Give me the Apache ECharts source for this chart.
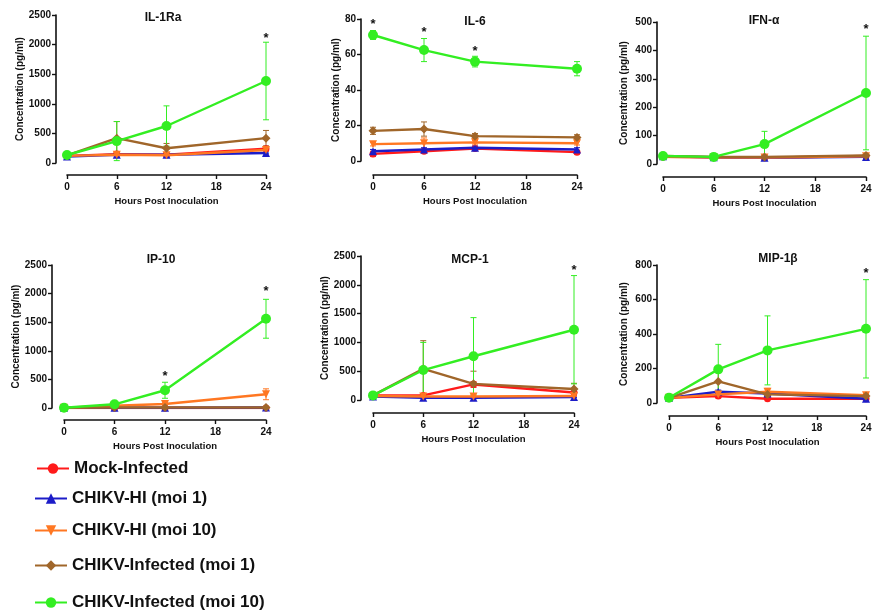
<!DOCTYPE html>
<html>
<head>
<meta charset="utf-8">
<script src="https://cdn.jsdelivr.net/npm/echarts@6/dist/echarts.min.js"></script>
<style>
* { margin: 0; padding: 0; }
body { background: #fff; }
#main { width: 879px; height: 614px; }
</style>
</head>
<body>
<div id="main"></div>
<script>
// time points (hours post inoculation)
var hours = [0, 6, 12, 24];
var groups = ['Mock-Infected', 'CHIKV-HI (moi 1)', 'CHIKV-HI (moi 10)', 'CHIKV-Infected (moi 1)', 'CHIKV-Infected (moi 10)'];

// means per group (rows follow `groups`), error = SD, stars = [hour, y]
var il1raMeans = [[120, 150, 140, 240], [110, 140, 140, 170], [120, 140, 130, 220], [130, 420, 250, 420], [135, 370, 625, 1385]];
var il1raSds = [[15, 20, 20, 30], [10, 15, 15, 15], [10, 20, 20, 20], [20, 280, 80, 130], [20, 330, 340, 655]];
var il1raStars = [[24, 2110]];

var il6Means = [[4, 5.5, 7, 5], [5.5, 6.5, 7.5, 6.5], [9.5, 10, 10.5, 10], [17, 18, 14, 13.3], [71, 62.5, 56, 52]];
var il6Sds = [[1.5, 1, 1, 1], [1, 1, 1, 1], [1, 3, 1, 1], [2, 4, 1.5, 1.5], [2.5, 6.5, 3, 4]];
var il6Stars = [[0, 77], [6, 72.5], [12, 62]];

var ifnMeans = [[25, 24, 22, 28], [27, 24, 22, 25], [25, 24, 23, 27], [28, 25, 25, 30], [28, 25, 70, 250]];
var ifnSds = [[4, 4, 4, 4], [4, 4, 4, 4], [4, 4, 4, 4], [4, 4, 4, 5], [5, 5, 45, 200]];
var ifnStars = [[24, 475]];

var ip10Means = [[0, 0, 0, 0], [5, 5, 5, 10], [5, 40, 70, 240], [5, 10, 8, 10], [5, 65, 310, 1560]];
var ip10Sds = [[2, 2, 2, 2], [2, 2, 2, 5], [5, 10, 20, 95], [2, 3, 3, 3], [5, 20, 140, 340]];
var ip10Stars = [[12, 560], [24, 2040]];

var mcp1Means = [[80, 80, 270, 130], [60, 40, 40, 50], [70, 60, 60, 70], [80, 540, 280, 190], [80, 520, 760, 1220]];
var mcp1Sds = [[10, 20, 50, 40], [5, 5, 5, 5], [10, 10, 10, 10], [20, 490, 220, 100], [20, 480, 670, 940]];
var mcp1Stars = [[24, 2250]];

var mip1bMeans = [[30, 40, 25, 25], [30, 65, 55, 25], [30, 50, 65, 45], [30, 125, 50, 40], [30, 195, 305, 430]];
var mip1bSds = [[5, 10, 5, 5], [5, 10, 10, 5], [5, 10, 20, 10], [5, 60, 10, 10], [10, 145, 200, 285]];
var mip1bStars = [[24, 750]];

var colors = ['#ff1a1a', '#1c1cc8', '#ff7722', '#a0662a', '#33ee22'];
var symbols = ['circle', 'triangle', 'triangle', 'diamond', 'circle'];
var rotations = [0, 0, 180, 0, 0];
var sizes = [7, 8, 8, 9, 10];

var panels = [
  { title: 'IL-1Ra', max: 2500, step: 500, means: il1raMeans, sds: il1raSds, stars: il1raStars,
    grid: { left: 67, top: 15, width: 199, height: 148 }, xOff: 12, yOff: 11, nameGap: 26, titleX: 158, titleY: 7 },
  { title: 'IL-6', max: 80, step: 20, means: il6Means, sds: il6Sds, stars: il6Stars,
    grid: { left: 373, top: 19, width: 204, height: 142 }, xOff: 14, yOff: 12, nameGap: 20, titleX: 470, titleY: 11 },
  { title: 'IFN-α', max: 500, step: 100, means: ifnMeans, sds: ifnSds, stars: ifnStars,
    grid: { left: 663, top: 22, width: 203, height: 142 }, xOff: 13, yOff: 6, nameGap: 28, titleX: 759, titleY: 10 },
  { title: 'IP-10', max: 2500, step: 500, means: ip10Means, sds: ip10Sds, stars: ip10Stars,
    grid: { left: 64, top: 265, width: 202, height: 143 }, xOff: 12, yOff: 12, nameGap: 27, titleX: 156, titleY: 249 },
  { title: 'MCP-1', max: 2500, step: 500, means: mcp1Means, sds: mcp1Sds, stars: mcp1Stars,
    grid: { left: 373, top: 256, width: 201, height: 144 }, xOff: 13, yOff: 12, nameGap: 26, titleX: 465, titleY: 249 },
  { title: 'MIP-1β', max: 800, step: 200, means: mip1bMeans, sds: mip1bSds, stars: mip1bStars,
    grid: { left: 669, top: 265, width: 197, height: 138 }, xOff: 13, yOff: 12, nameGap: 28, titleX: 773, titleY: 248 }
];

var font = 'Liberation Sans, Arial, sans-serif';
var axisLine = { show: true, onZero: false, lineStyle: { color: '#111', width: 1.6 } };
var axisTick = { show: true, length: 4, lineStyle: { color: '#111', width: 1.4 } };

var option = {
  backgroundColor: '#fff',
  animation: false,
  title: [], grid: [], xAxis: [], yAxis: [], series: [], legend: []
};

panels.forEach(function (p, i) {
  option.title.push({
    text: p.title, left: p.titleX, top: p.titleY, textAlign: 'center',
    textStyle: { fontFamily: font, fontWeight: 'bold', fontSize: 12, color: '#111' }
  });
  var g = Object.assign({ containLabel: false, outerBoundsMode: 'none' }, p.grid);
  option.grid.push(g);
  option.xAxis.push({
    type: 'value', gridIndex: i, min: 0, max: 24, interval: 6, offset: p.xOff,
    name: 'Hours Post Inoculation', nameLocation: 'middle', nameGap: 21,
    nameTextStyle: { fontFamily: font, fontWeight: 'bold', fontSize: 9.5, color: '#111' },
    axisLine: axisLine, axisTick: axisTick, splitLine: { show: false },
    axisLabel: { fontFamily: font, fontWeight: 'bold', fontSize: 10, color: '#111', margin: 7 }
  });
  option.yAxis.push({
    type: 'value', gridIndex: i, min: 0, max: p.max, interval: p.step, offset: p.yOff,
    name: 'Concentration (pg/ml)', nameLocation: 'middle', nameGap: p.nameGap,
    nameTextStyle: { fontFamily: font, fontWeight: 'bold', fontSize: 10, color: '#111' },
    axisLine: axisLine, axisTick: axisTick, splitLine: { show: false },
    axisLabel: { fontFamily: font, fontWeight: 'bold', fontSize: 10, color: '#111', margin: 5,
      formatter: function (v) { return String(v); } }
  });

  // error bars first, so the lines sit on top
  var errData = [];
  p.means.forEach(function (row, g) {
    row.forEach(function (m, k) {
      var sd = p.sds[g][k];
      errData.push([hours[k], Math.max(0, m - sd), m + sd, g]);
    });
  });
  option.series.push({
    type: 'custom', xAxisIndex: i, yAxisIndex: i, data: errData, z: 1,
    renderItem: function (params, api) {
      var a = api.coord([api.value(0), api.value(1)]);
      var b = api.coord([api.value(0), api.value(2)]);
      var c = colors[api.value(3)];
      var s = { stroke: c, lineWidth: 1 };
      return { type: 'group', children: [
        { type: 'line', shape: { x1: a[0], y1: a[1], x2: b[0], y2: b[1] }, style: s },
        { type: 'line', shape: { x1: a[0] - 3, y1: a[1], x2: a[0] + 3, y2: a[1] }, style: s },
        { type: 'line', shape: { x1: b[0] - 3, y1: b[1], x2: b[0] + 3, y2: b[1] }, style: s }
      ] };
    }
  });

  p.means.forEach(function (row, g) {
    option.series.push({
      name: groups[g], type: 'line', xAxisIndex: i, yAxisIndex: i, z: 2 + g,
      data: row.map(function (v, k) { return [hours[k], v]; }),
      symbol: symbols[g], symbolSize: sizes[g], symbolRotate: rotations[g],
      lineStyle: { color: colors[g], width: 2.4 },
      itemStyle: { color: colors[g] }
    });
  });

  option.series.push({
    type: 'custom', xAxisIndex: i, yAxisIndex: i, data: p.stars, z: 10,
    renderItem: function (params, api) {
      var pt = api.coord([api.value(0), api.value(1)]);
      return { type: 'text', x: pt[0], y: pt[1],
        style: { text: '*', fill: '#111', font: 'bold 13px ' + font, align: 'center', verticalAlign: 'middle' } };
    }
  });
});

// one legend per row, rows are unevenly spaced as in the figure
var legendTops = [460, 490, 522, 557, 594];
var legendLefts = [36, 34, 34, 34, 34];
groups.forEach(function (g, k) {
  option.legend.push({
    data: [g], left: legendLefts[k], top: legendTops[k], orient: 'vertical', padding: 0,
    itemWidth: 32, itemHeight: 13, itemGap: 8, selectedMode: false,
    textStyle: { fontFamily: font, fontWeight: 'bold', fontSize: 17, color: '#111' }
  });
});

var chart = echarts.init(document.getElementById('main'));
chart.setOption(option);
</script>
</body>
</html>
